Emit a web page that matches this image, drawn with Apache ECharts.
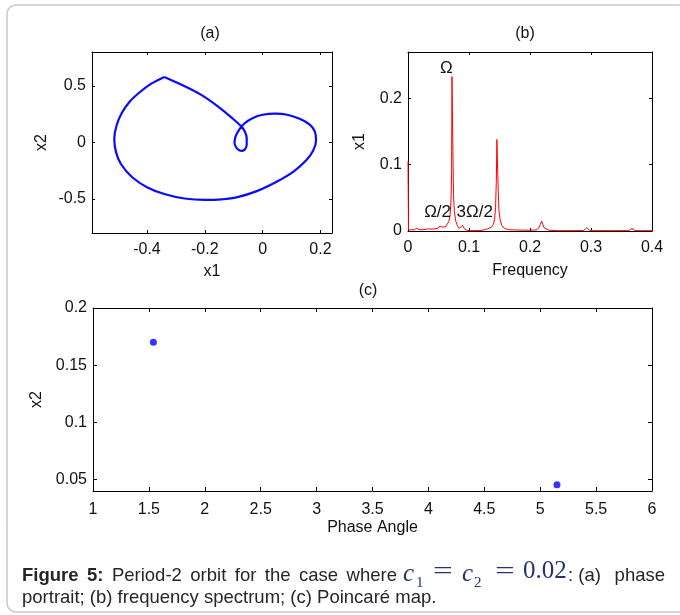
<!DOCTYPE html>
<html>
<head>
<meta charset="utf-8">
<script src="https://cdn.jsdelivr.net/npm/echarts@6/dist/echarts.min.js"></script>
<style>
  html, body { margin: 0; padding: 0; background: #fff; }
  #chart { width: 680px; height: 615px; }
</style>
</head>
<body>
<div id="chart"></div>
<script>
// (a) phase portrait: x1 / x2 samples along one period-2 orbit
const orbitX1 = [-0.340, -0.385, -0.427, -0.460, -0.487, -0.505, -0.513, -0.507, -0.490, -0.452, -0.400, -0.340,
  -0.270, -0.200, -0.140, -0.090, -0.020, 0.050, 0.108, 0.150, 0.175, 0.185, 0.180, 0.162, 0.128, 0.085, 0.045,
  0.000, -0.035, -0.062, -0.082, -0.094, -0.097, -0.091, -0.081, -0.071, -0.061, -0.055, -0.055, -0.062, -0.075,
  -0.105, -0.155, -0.215, -0.280, -0.340];
const orbitX2 = [0.580, 0.520, 0.440, 0.360, 0.260, 0.150, 0.030, -0.085, -0.190, -0.305, -0.395, -0.455,
  -0.495, -0.508, -0.502, -0.485, -0.430, -0.345, -0.255, -0.160, -0.070, 0.020, 0.100, 0.160, 0.210, 0.245, 0.255,
  0.245, 0.215, 0.170, 0.110, 0.050, -0.005, -0.045, -0.068, -0.074, -0.060, -0.020, 0.040, 0.100, 0.145,
  0.215, 0.320, 0.425, 0.510, 0.580];

// (b) amplitude spectrum of x1
const freq = [0, 0.0008, 0.005, 0.011, 0.0145, 0.018, 0.024, 0.032, 0.042, 0.049, 0.0525, 0.054, 0.0558, 0.058,
  0.061, 0.064, 0.067, 0.069, 0.0705, 0.0715, 0.0721, 0.0729, 0.0736, 0.0746, 0.076, 0.078, 0.081, 0.084, 0.087,
  0.0895, 0.092, 0.096, 0.100, 0.110, 0.120, 0.125, 0.1275, 0.130, 0.133, 0.137, 0.140, 0.142, 0.1435, 0.1448,
  0.1457, 0.1466, 0.1476, 0.149, 0.151, 0.154, 0.158, 0.165, 0.180, 0.200, 0.210, 0.214, 0.217, 0.219, 0.221,
  0.223, 0.226, 0.231, 0.245, 0.270, 0.288, 0.291, 0.293, 0.295, 0.298, 0.320, 0.350, 0.362, 0.365, 0.367, 0.369,
  0.372, 0.390, 0.400];
const ampX1 = [0.105, 0.002, 0.0015, 0.002, 0.0045, 0.002, 0.002, 0.003, 0.003, 0.004, 0.0075, 0.0105, 0.006, 0.005,
  0.006, 0.009, 0.014, 0.024, 0.045, 0.090, 0.233, 0.233, 0.120, 0.055, 0.030, 0.016, 0.008, 0.004, 0.003,
  0.0085, 0.004, 0.001, 0.0005, 0.0005, 0.0008, 0.002, 0.0045, 0.003, 0.004, 0.006, 0.010, 0.018, 0.035, 0.075,
  0.138, 0.138, 0.070, 0.032, 0.017, 0.008, 0.004, 0.002, 0.0015, 0.0012, 0.0015, 0.004, 0.010, 0.015, 0.010,
  0.005, 0.002, 0.0012, 0.0005, 0.0005, 0.0006, 0.002, 0.005, 0.002, 0.0005, 0.0005, 0.0005, 0.0006, 0.002, 0.004,
  0.002, 0.0005, 0.0005, 0.0005];

// harmonic annotations: label text and anchor in (frequency, amplitude)
const peakNames = ['\u03A9', '\u03A9/2', '3\u03A9/2'];
const peakAnchors = [[0.063, 0.246], [0.0485, 0.028], [0.1095, 0.028]];

// (c) Poincaré section points
const phaseAngle = [1.54, 5.15];
const poincareX2 = [0.170, 0.0455];

// tick values
const ticksAX = [-0.4, -0.2, 0, 0.2];
const ticksAY = [-0.5, 0, 0.5];
const ticksBX = [0, 0.1, 0.2, 0.3, 0.4];
const ticksBY = [0, 0.1, 0.2];
const ticksCY = [0.05, 0.1, 0.15, 0.2];

const FONT = '"Liberation Sans", Arial, sans-serif';
const INK = '#111';
const CAP_INK = '#262626';
const MATH_INK = '#26346c';
const CAP_FONT = '18.5px ' + FONT;
const CAP_BOLD = 'bold 18.5px ' + FONT;

function xAx(grid, min, max, ticks, opts) {
  const base = {
    type: 'value', gridIndex: grid, min: min, max: max, position: 'bottom',
    splitLine: { show: false },
    axisLine: { show: true, onZero: false, lineStyle: { color: '#000', width: 1 } },
    axisTick: { show: true, inside: true, length: 3, lineStyle: { color: '#000' } },
    axisLabel: { show: true, color: INK, fontSize: 16, fontFamily: FONT, margin: 9 },
    nameTextStyle: { color: INK, fontSize: 16, fontFamily: FONT }
  };
  if (ticks) {
    base.axisTick.customValues = ticks;
    base.axisLabel.customValues = ticks;
  }
  return Object.assign(base, opts || {});
}
function yAx(grid, min, max, ticks, opts) {
  const base = {
    type: 'value', gridIndex: grid, min: min, max: max, position: 'left',
    splitLine: { show: false },
    axisLine: { show: true, onZero: false, lineStyle: { color: '#000', width: 1 } },
    axisTick: { show: true, inside: true, length: 3, lineStyle: { color: '#000' } },
    axisLabel: { show: true, color: INK, fontSize: 16, fontFamily: FONT, margin: 6 },
    nameTextStyle: { color: INK, fontSize: 16, fontFamily: FONT }
  };
  if (ticks) {
    base.axisTick.customValues = ticks;
    base.axisLabel.customValues = ticks;
  }
  return Object.assign(base, opts || {});
}
function mirror(ax, pos) {
  const m = JSON.parse(JSON.stringify(ax));
  m.position = pos;
  m.axisLabel.show = false;
  delete m.name;
  return m;
}

const axA_x = xAx(0, -0.59, 0.24, ticksAX, { name: 'x1', nameLocation: 'middle', nameGap: 31 });
const axA_y = yAx(0, -0.8, 0.8, ticksAY, { name: 'x2', nameLocation: 'middle', nameGap: 42, nameRotate: 90 });
const axB_x = xAx(1, 0, 0.4, ticksBX, { name: 'Frequency', nameLocation: 'middle', nameGap: 32 });
const axB_y = yAx(1, 0, 0.27, ticksBY, { name: 'x1', nameLocation: 'middle', nameGap: 40, nameRotate: 90 });
const axC_x = xAx(2, 1, 6, null, { interval: 0.5, name: 'Phase Angle', nameLocation: 'middle', nameGap: 29 });
axC_x.axisTick.length = 4;
axC_x.axisLabel.margin = 11;
const axC_y = yAx(2, 0.04, 0.2, ticksCY, { name: 'x2', nameLocation: 'middle', nameGap: 48, nameRotate: 90 });
axC_y.axisTick.length = 4;

// caption, first line: words spread so the line is justified between its margins
const measureCtx = document.createElement('canvas').getContext('2d');
function textWidth(str, font) {
  measureCtx.font = font;
  return measureCtx.measureText(str).width;
}
function justifiedWords(words, x0, x1, y) {
  const widths = words.map(w => textWidth(w.t, w.bold ? CAP_BOLD : CAP_FONT));
  const total = widths.reduce((a, b) => a + b, 0);
  const gap = (x1 - x0 - total) / (words.length - 1);
  let x = x0;
  return words.map((w, i) => {
    const el = { type: 'text', x: x, y: y,
      style: { text: w.t, font: w.bold ? CAP_BOLD : CAP_FONT, fill: CAP_INK, verticalAlign: 'middle' } };
    x += widths[i] + gap;
    return el;
  });
}
const captionLeft = justifiedWords([
  { t: 'Figure', bold: true }, { t: '5:', bold: true }, { t: 'Period-2' }, { t: 'orbit' },
  { t: 'for' }, { t: 'the' }, { t: 'case' }, { t: 'where' }
], 22, 397, 576);

function mathText(str, x, y, font, sx) {
  return { type: 'text', x: x, y: y, scaleX: sx || 1,
    style: { text: str, font: font, fill: MATH_INK, verticalAlign: 'middle' } };
}
const MATH_IT = 'italic 25px "Liberation Serif", serif';
const MATH_RM = '25px "Liberation Serif", serif';
const MATH_SUB = '15px "Liberation Serif", serif';

const option = {
  backgroundColor: '#fff',
  animation: false,
  grid: [
    { left: 92, top: 52, width: 240, height: 181, containLabel: false },
    { left: 408, top: 52, width: 244, height: 179, containLabel: false },
    { left: 93, top: 308, width: 559, height: 183, containLabel: false }
  ],
  xAxis: [axA_x, mirror(axA_x, 'top'), axB_x, mirror(axB_x, 'top'), axC_x, mirror(axC_x, 'top')],
  yAxis: [axA_y, mirror(axA_y, 'right'), axB_y, mirror(axB_y, 'right'), axC_y, mirror(axC_y, 'right')],
  series: [
    {
      type: 'line', xAxisIndex: 0, yAxisIndex: 0,
      data: orbitX1.map((v, i) => [v, orbitX2[i]]),
      symbol: 'none', smooth: 0.35,
      lineStyle: { color: '#0a0aff', width: 2.2 }
    },
    {
      type: 'line', xAxisIndex: 2, yAxisIndex: 2,
      data: freq.map((f, i) => [f, ampX1[i]]),
      symbol: 'none',
      lineStyle: { color: '#ff0000', width: 1 },
      markPoint: {
        symbol: 'circle', symbolSize: 0,
        label: { show: true, position: 'inside', formatter: '{b}', color: '#111', fontSize: 17, fontFamily: FONT },
        data: peakNames.map((n, i) => ({ name: n, coord: peakAnchors[i] }))
      }
    },
    {
      type: 'scatter', xAxisIndex: 4, yAxisIndex: 4,
      data: phaseAngle.map((p, i) => [p, poincareX2[i]]),
      symbol: 'circle', symbolSize: 7,
      itemStyle: { color: '#0000ff' }
    }
  ],
  graphic: [
    { type: 'rect', shape: { x: 7, y: 5, width: 680, height: 607, r: 9 },
      style: { fill: null, stroke: '#c9c9c9', lineWidth: 1.5 }, z: -1 },
    { type: 'text', x: 210, y: 34, style: { text: '(a)', font: '16px ' + FONT, fill: INK, align: 'center', verticalAlign: 'middle' } },
    { type: 'text', x: 525, y: 34, style: { text: '(b)', font: '16px ' + FONT, fill: INK, align: 'center', verticalAlign: 'middle' } },
    { type: 'text', x: 368, y: 291, style: { text: '(c)', font: '16px ' + FONT, fill: INK, align: 'center', verticalAlign: 'middle' } }
  ].concat(captionLeft, [
    mathText('c', 403, 574, MATH_IT),
    mathText('1', 416, 583, MATH_SUB),
    mathText('=', 433, 572, MATH_RM, 1.4),
    mathText('c', 462, 574, MATH_IT),
    mathText('2', 474, 583, MATH_SUB),
    mathText('=', 495, 572, MATH_RM, 1.4),
    mathText('0.02', 523, 571, MATH_RM),
    { type: 'text', x: 568, y: 576, style: { text: ': (a)', font: CAP_FONT, fill: CAP_INK, verticalAlign: 'middle' } },
    { type: 'text', x: 665, y: 576, style: { text: 'phase', font: CAP_FONT, fill: CAP_INK, align: 'right', verticalAlign: 'middle' } },
    { type: 'text', x: 22, y: 598, style: { text: 'portrait; (b) frequency spectrum; (c) Poincar\u00e9 map.', font: CAP_FONT, fill: CAP_INK, verticalAlign: 'middle' } }
  ])
};

const chart = echarts.init(document.getElementById('chart'), null, { renderer: 'canvas' });
chart.setOption(option);
</script>
</body>
</html>
